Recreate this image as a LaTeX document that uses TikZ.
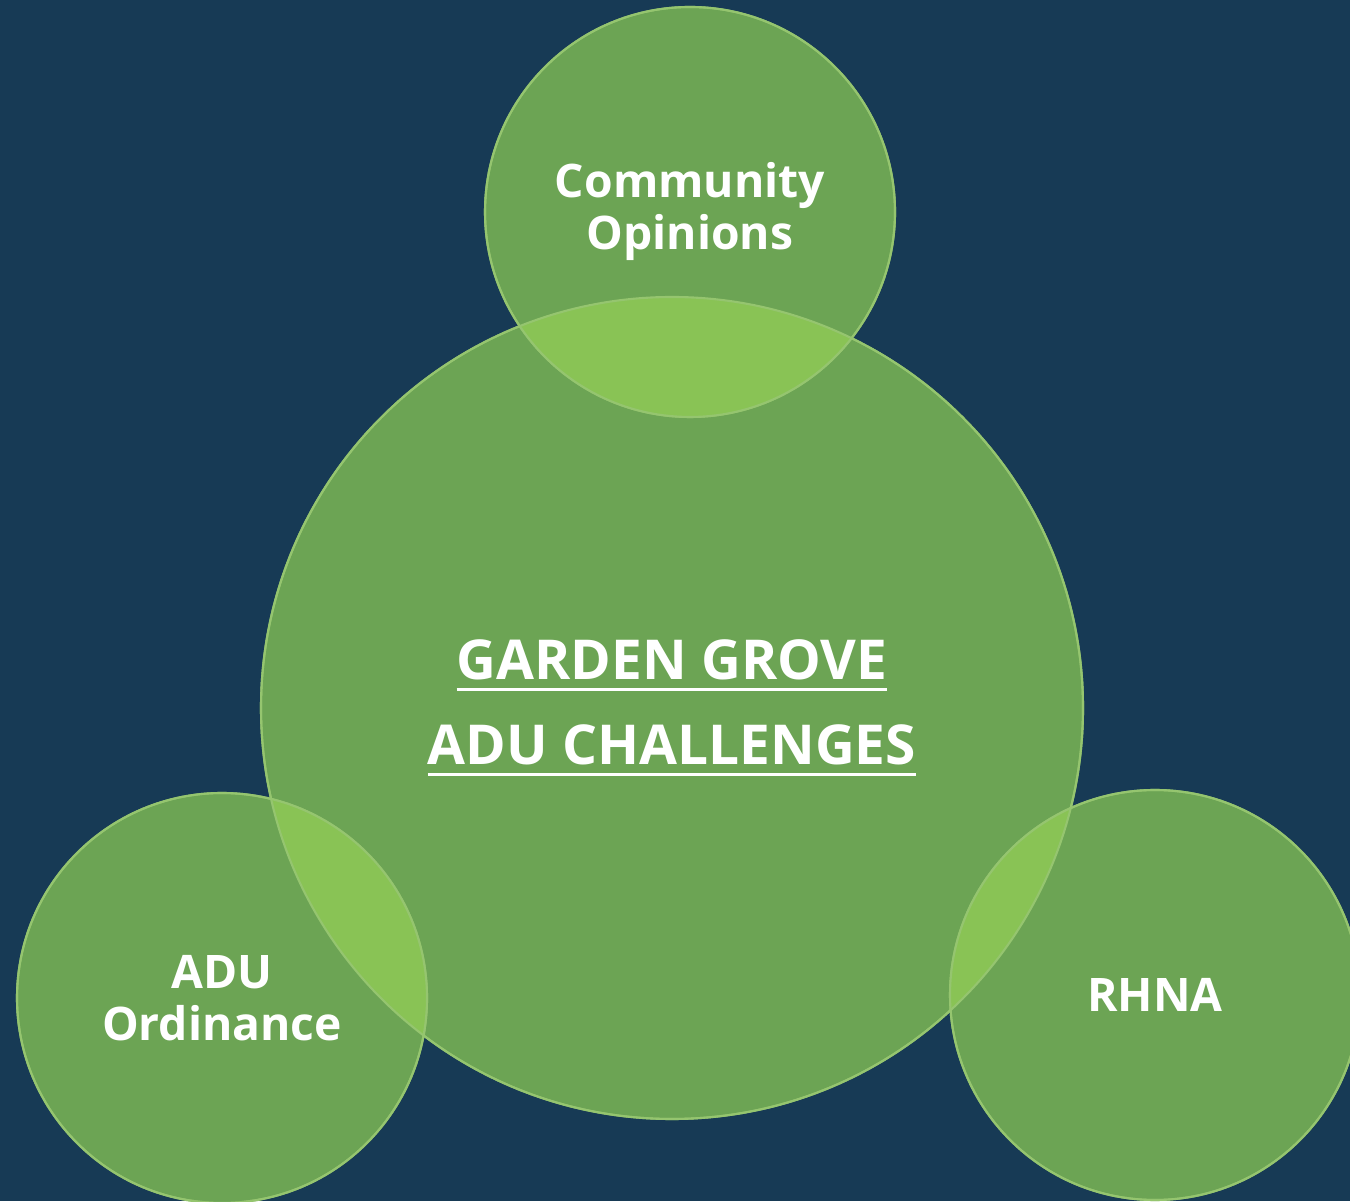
\documentclass[tikz,border=0pt]{standalone}
\usepackage{fontspec}
\setmainfont{Open Sans}
\usepackage{xcolor}

\definecolor{navy}{HTML}{173A55}
\definecolor{leaf}{HTML}{6CA454}
\definecolor{leaflit}{HTML}{89C355}
\definecolor{rim}{HTML}{95C56F}

% underline drawn a little below the baseline
\newcommand{\headul}[1]{\setbox0\hbox{#1}\rlap{\vrule width\wd0 height -4.6pt depth 6.3pt}\box0}

\begin{document}
\begin{tikzpicture}
\tikzstyle{bubble}=[circle,fill=leaf,draw=rim,line width=1.2pt,text=white,align=center,inner sep=0pt]
\tikzstyle{small bubble}=[bubble,minimum size=8.2cm,font=\bfseries\fontsize{26.3}{29.6}\selectfont]

\fill[navy] (0,0) rectangle (27,24.02);
\useasboundingbox (0,0) rectangle (27,24.02);

\begin{scope}
\clip (0,0) rectangle (27,24.02);

\node[bubble,minimum size=16.44cm,font=\bfseries\fontsize{31.3}{48.4}\selectfont]
  (core) at (13.44,9.86) {\headul{GARDEN GROVE}\\\headul{ADU CHALLENGES}};
\node[small bubble] (opinions)  at (13.8,19.78) {Community\\Opinions};
\node[small bubble] (ordinance) at (4.44,4.06)  {ADU\\Ordinance};
\node[small bubble] (rhna)      at (23.1,4.12)  {RHNA};

% lighter lens where the small circles cross the big one
\foreach \n in {opinions,ordinance,rhna}{
  \begin{scope}
    \clip (core.center) circle[radius=8.22cm];
    \fill[leaflit] (\n.center) circle[radius=4.1cm];
  \end{scope}
}

% rims on top
\foreach \n/\r in {core/8.22,opinions/4.1,ordinance/4.1,rhna/4.1}
  \draw[rim,line width=1.2pt] (\n.center) circle[radius=\r cm];
\end{scope}
\end{tikzpicture}
\end{document}
